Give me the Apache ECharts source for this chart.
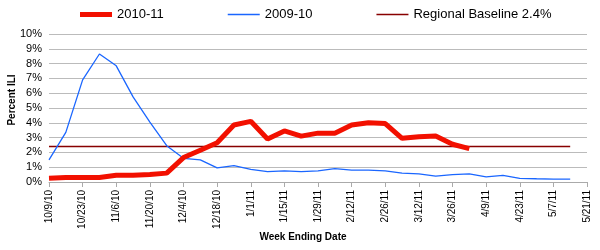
<!DOCTYPE html>
<html>
<head>
<meta charset="utf-8">
<script src="https://cdn.jsdelivr.net/npm/echarts@6/dist/echarts.min.js"></script>
<style>
  html, body { margin: 0; padding: 0; background: #fff; }
  #main { width: 600px; height: 250px; }
</style>
</head>
<body>
<div id="main"></div>
<script>
// week ending dates
var weeks = ['10/9/10', '10/16/10', '10/23/10', '10/30/10', '11/6/10', '11/13/10', '11/20/10', '11/27/10',
    '12/4/10', '12/11/10', '12/18/10', '12/25/10', '1/1/11', '1/8/11', '1/15/11', '1/22/11',
    '1/29/11', '2/5/11', '2/12/11', '2/19/11', '2/26/11', '3/5/11', '3/12/11', '3/19/11',
    '3/26/11', '4/2/11', '4/9/11', '4/16/11', '4/23/11', '4/30/11', '5/7/11', '5/14/11', '5/21/11'];

// percent ILI, 2010-11 season
var season1011 = [0.25, 0.3, 0.3, 0.3, 0.45, 0.45, 0.5, 0.6, 1.65, 2.15, 2.65, 3.85, 4.1, 2.9, 3.45, 3.1,
    3.3, 3.3, 3.85, 4.0, 3.95, 2.95, 3.05, 3.1, 2.55, 2.25];

// percent ILI, 2009-10 season
var season0910 = [1.5, 3.35, 6.9, 8.65, 7.85, 5.75, 4.05, 2.45, 1.6, 1.5, 0.95, 1.1, 0.85, 0.7, 0.75, 0.7,
    0.75, 0.9, 0.8, 0.8, 0.75, 0.6, 0.55, 0.4, 0.5, 0.55, 0.35, 0.45, 0.25, 0.22, 0.2, 0.2];

// regional baseline, drawn from first to last reported week
var baseline = [['10/9/10', 2.4], ['5/14/11', 2.4]];

var yTicks = { min: 0, max: 10, interval: 1 };

var myChart = echarts.init(document.getElementById('main'));
var font = 'Liberation Sans, Arial, sans-serif';
var option = {
    animation: false,
    textStyle: { fontFamily: font },
    legend: {
        top: 3,
        left: 75,
        itemGap: 64,
        itemTextGap: 3,
        itemWidth: 32,
        itemHeight: 14,
        textStyle: { fontFamily: font, fontSize: 13, color: '#000' },
        data: [
            { name: '2010-11', icon: 'path://M0 0H32V5H0Z' },
            { name: '2009-10', icon: 'path://M0 0H32V1.3H0Z' },
            { name: 'Regional Baseline 2.4%', icon: 'path://M0 0H32V1.5H0Z' }
        ]
    },
    grid: { left: 49, right: 13, top: 34, bottom: 68, outerBoundsMode: 'none', containLabel: false },
    xAxis: {
        type: 'category',
        data: weeks,
        boundaryGap: false,
        name: 'Week Ending Date',
        nameLocation: 'middle',
        nameGap: 50,
        nameMoveOverlap: false,
        nameTextStyle: { fontFamily: font, fontSize: 10, fontWeight: 'bold', color: '#000', padding: [0, 30, 0, 0] },
        axisLine: { lineStyle: { color: '#aaa' } },
        axisTick: { interval: 1, length: 5, lineStyle: { color: '#aaa' } },
        axisLabel: { interval: 1, rotate: 90, fontSize: 10, color: '#000', margin: 8 },
        splitLine: { show: false }
    },
    yAxis: {
        type: 'value',
        min: yTicks.min,
        max: yTicks.max,
        interval: yTicks.interval,
        name: 'Percent ILI',
        nameLocation: 'middle',
        nameGap: 32,
        nameMoveOverlap: false,
        nameTextStyle: { fontFamily: font, fontSize: 10, fontWeight: 'bold', color: '#000', padding: [0, 0, 0, 16] },
        axisLine: { show: false },
        axisTick: { show: false },
        axisLabel: { formatter: '{value}%', fontSize: 11, color: '#000', margin: 7 },
        splitLine: { lineStyle: { color: '#bbb', width: 1 } }
    },
    series: [
        {
            name: '2010-11',
            type: 'line',
            data: season1011,
            symbol: 'none',
            z: 4,
            lineStyle: { color: '#f21000', width: 5 },
            itemStyle: { color: '#f21000' }
        },
        {
            name: '2009-10',
            type: 'line',
            data: season0910,
            symbol: 'none',
            z: 3,
            lineStyle: { color: '#1a66ff', width: 1.3 },
            itemStyle: { color: '#1a66ff' }
        },
        {
            name: 'Regional Baseline 2.4%',
            type: 'line',
            data: baseline,
            symbol: 'none',
            z: 2,
            lineStyle: { color: '#880000', width: 1.5 },
            itemStyle: { color: '#880000' }
        }
    ]
};
myChart.setOption(option);
</script>
</body>
</html>
